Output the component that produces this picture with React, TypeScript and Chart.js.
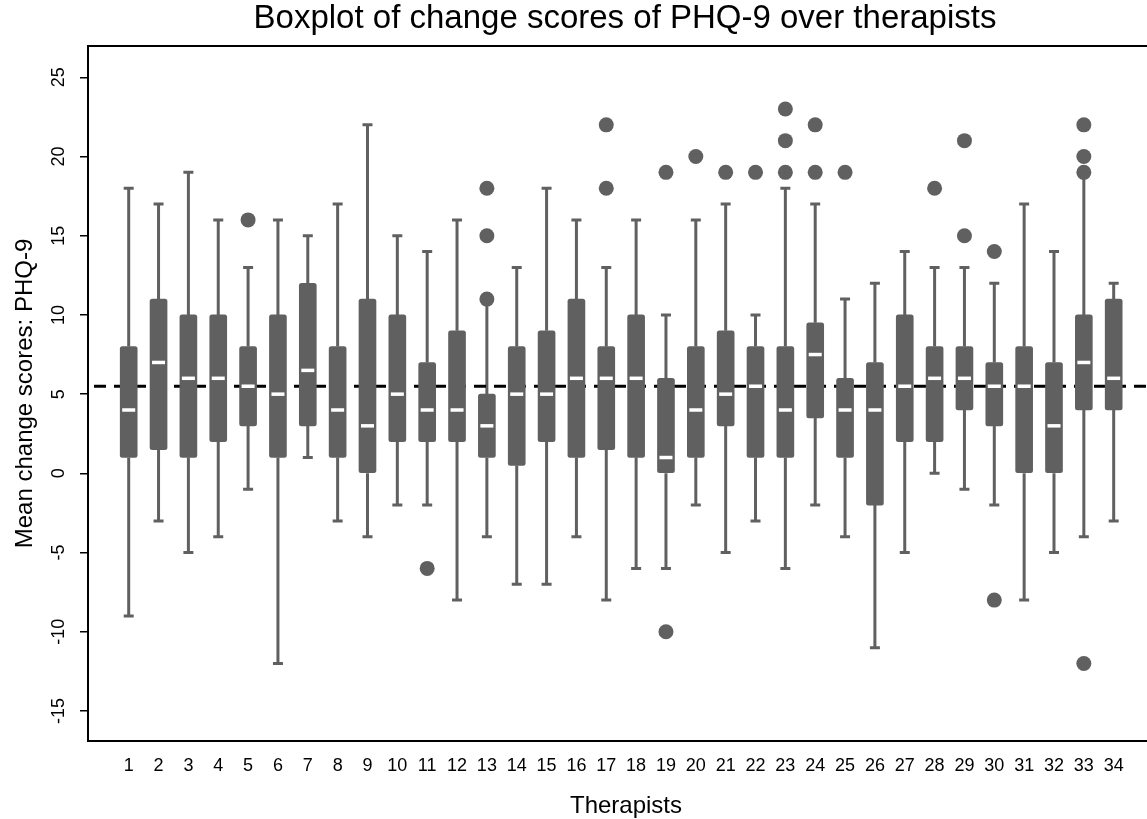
import { useEffect, useRef } from 'react';
import { Chart, registerables } from 'chart.js';

Chart.register(...registerables);

// ---- Data ----
const therapists = [1, 2, 3, 4, 5, 6, 7, 8, 9, 10, 11, 12, 13, 14, 15, 16, 17, 18, 19, 20, 21, 22, 23, 24, 25, 26, 27, 28, 29, 30, 31, 32, 33, 34];
const upperWhisker = [18, 17, 19, 16, 13, 16, 15, 17, 22, 15, 14, 16, 11, 13, 18, 16, 13, 16, 10, 16, 17, 10, 18, 17, 11, 12, 14, 13, 13, 12, 17, 14, 19, 12];
const q3 = [8, 11, 10, 10, 8, 10, 12, 8, 11, 10, 7, 9, 5, 8, 9, 11, 8, 10, 6, 8, 9, 8, 8, 9.5, 6, 7, 10, 8, 8, 7, 8, 7, 10, 11];
const medians = [4, 7, 6, 6, 5.5, 5, 6.5, 4, 3, 5, 4, 4, 3, 5, 5, 6, 6, 6, 1, 4, 5, 5.5, 4, 7.5, 4, 4, 5.5, 6, 6, 5.5, 5.5, 3, 7, 6];
const q1 = [1, 1.5, 1, 2, 3, 1, 3, 1, 0, 2, 2, 2, 1, 0.5, 2, 1, 1.5, 1, 0, 1, 3, 1, 1, 3.5, 1, -2, 2, 2, 4, 3, 0, 0, 4, 4];
const lowerWhisker = [-9, -3, -5, -4, -1, -12, 1, -3, -4, -2, -2, -8, -4, -7, -7, -4, -8, -6, -6, -2, -5, -3, -6, -2, -4, -11, -5, 0, -1, -2, -8, -5, -4, -3];
const outlierTherapist = [5, 11, 13, 13, 13, 17, 17, 19, 19, 20, 21, 22, 23, 23, 23, 24, 24, 25, 28, 29, 29, 30, 30, 33, 33, 33, 33];
const outlierValue = [16, -6, 18, 15, 11, 22, 18, 19, -10, 20, 19, 19, 23, 21, 19, 22, 19, 19, 18, 21, 15, 14, -8, 22, 20, 19, -12];
const yTickValues = [-15, -10, -5, 0, 5, 10, 15, 20, 25];
const referenceValue = 5.5;

const titleText = 'Boxplot of change scores of PHQ-9 over therapists';
const xTitleText = 'Therapists';
const yTitleText = 'Mean change scores: PHQ-9';

// ---- Style / layout ----
const GRAY = '#606060';
const FONT = '"Liberation Sans", Arial, Helvetica, sans-serif';
const X_MIN = -0.3636;
const X_MAX = 35.116;
const Y_MIN = -16.894;
const Y_MAX = 26.976;

const extrasPlugin = {
  id: 'boxExtras',
  beforeDatasetsDraw(chart: any) {
    const { ctx, scales, chartArea } = chart;
    const x = scales.x;
    const y = scales.y;
    ctx.save();
    // whiskers
    ctx.strokeStyle = GRAY;
    ctx.lineWidth = 3;
    ctx.lineCap = 'butt';
    therapists.forEach((t, i) => {
      const px = x.getPixelForValue(t);
      const yLo = y.getPixelForValue(lowerWhisker[i]);
      const yHi = y.getPixelForValue(upperWhisker[i]);
      const yQ1 = y.getPixelForValue(q1[i]);
      const yQ3 = y.getPixelForValue(q3[i]);
      ctx.beginPath();
      ctx.moveTo(px, yLo);
      ctx.lineTo(px, yQ1);
      ctx.moveTo(px, yQ3);
      ctx.lineTo(px, yHi);
      ctx.moveTo(px - 5, yLo);
      ctx.lineTo(px + 5, yLo);
      ctx.moveTo(px - 5, yHi);
      ctx.lineTo(px + 5, yHi);
      ctx.stroke();
    });
    // dashed reference line (behind the boxes)
    const ry = y.getPixelForValue(referenceValue);
    ctx.strokeStyle = '#000';
    ctx.lineWidth = 3;
    ctx.setLineDash([12, 8]);
    ctx.lineDashOffset = 14;
    ctx.beginPath();
    ctx.moveTo(chartArea.left, ry);
    ctx.lineTo(chartArea.right, ry);
    ctx.stroke();
    ctx.restore();
  },
  afterDatasetsDraw(chart: any) {
    const { ctx, scales } = chart;
    const x = scales.x;
    const y = scales.y;
    ctx.save();
    ctx.strokeStyle = '#ffffff';
    ctx.lineWidth = 3.5;
    therapists.forEach((t, i) => {
      const px = x.getPixelForValue(t);
      const py = y.getPixelForValue(medians[i]);
      ctx.beginPath();
      ctx.moveTo(px - 6.5, py);
      ctx.lineTo(px + 6.5, py);
      ctx.stroke();
    });
    ctx.restore();
  },
  afterDraw(chart: any) {
    const { ctx, chartArea, scales } = chart;
    const y = scales.y;
    const { left, top, right, bottom } = chartArea;
    ctx.save();
    // frame
    ctx.strokeStyle = '#000';
    ctx.lineWidth = 2;
    ctx.beginPath();
    ctx.moveTo(right + 2, top);
    ctx.lineTo(left, top);
    ctx.lineTo(left, bottom);
    ctx.lineTo(right + 2, bottom);
    ctx.stroke();

    ctx.fillStyle = '#000';
    // y tick labels (rotated)
    ctx.font = `18px ${FONT}`;
    ctx.textAlign = 'center';
    ctx.textBaseline = 'middle';
    yTickValues.forEach((v) => {
      const py = y.getPixelForValue(v);
      ctx.save();
      ctx.translate(59, py);
      ctx.rotate(-Math.PI / 2);
      ctx.fillText(String(v), 0, 0);
      ctx.restore();
    });

    // title
    ctx.font = `33px ${FONT}`;
    ctx.textAlign = 'center';
    ctx.textBaseline = 'middle';
    ctx.fillText(titleText, 625, 19);

    // x axis title
    ctx.font = `24px ${FONT}`;
    ctx.fillText(xTitleText, 626, 806);

    // y axis title
    ctx.save();
    ctx.translate(25, (top + bottom) / 2);
    ctx.rotate(-Math.PI / 2);
    ctx.fillText(yTitleText, 0, 0);
    ctx.restore();

    ctx.restore();
  },
};

export default function App() {
  const canvasRef = useRef<HTMLCanvasElement>(null);

  useEffect(() => {
    const canvas = canvasRef.current;
    if (!canvas) return;
    const chart = new Chart(canvas, {
      type: 'bar',
      data: {
        datasets: [
          {
            type: 'bar',
            data: therapists.map((t, i) => ({ x: t, y: [q1[i], q3[i]] })),
            backgroundColor: GRAY,
            barThickness: 17,
            borderRadius: 2.5,
            borderSkipped: false,
            order: 2,
          } as any,
          {
            type: 'scatter',
            data: outlierTherapist.map((t, i) => ({ x: t, y: outlierValue[i] })),
            backgroundColor: GRAY,
            borderWidth: 0,
            pointRadius: 7.5,
            order: 1,
          } as any,
        ],
      },
      options: {
        responsive: false,
        animation: false,
        events: [],
        devicePixelRatio: 1,
        layout: { autoPadding: false, padding: { top: 46, left: 0, right: 0, bottom: 0 } },
        plugins: {
          legend: { display: false },
          tooltip: { enabled: false },
          title: { display: false },
        },
        scales: {
          x: {
            type: 'linear',
            min: X_MIN,
            max: X_MAX,
            offset: false,
            afterBuildTicks: (s: any) => {
              s.ticks = therapists.map((v) => ({ value: v }));
            },
            afterFit: (s: any) => {
              s.height = 78;
              s.paddingLeft = 0;
              s.paddingRight = 0;
            },
            ticks: {
              autoSkip: false,
              maxRotation: 0,
              minRotation: 0,
              padding: 6,
              color: '#000',
              font: { family: FONT, size: 18 },
            },
            grid: { display: false },
            border: { display: false },
          },
          y: {
            type: 'linear',
            min: Y_MIN,
            max: Y_MAX,
            afterBuildTicks: (s: any) => {
              s.ticks = yTickValues.map((v) => ({ value: v }));
            },
            afterFit: (s: any) => {
              s.width = 88;
              s.paddingTop = 0;
              s.paddingBottom = 0;
            },
            ticks: { display: false },
            grid: {
              display: true,
              drawOnChartArea: false,
              drawTicks: true,
              tickLength: 8,
              color: '#000',
              lineWidth: 1.5,
            },
            border: { display: false },
          },
        },
      } as any,
      plugins: [extrasPlugin],
    });
    return () => chart.destroy();
  }, []);

  return (
    <div style={{ position: 'fixed', left: 0, top: 0, width: 1147, height: 819, background: '#fff' }}>
      <canvas ref={canvasRef} width={1147} height={819} style={{ display: 'block', width: 1147, height: 819 }} />
    </div>
  );
}
